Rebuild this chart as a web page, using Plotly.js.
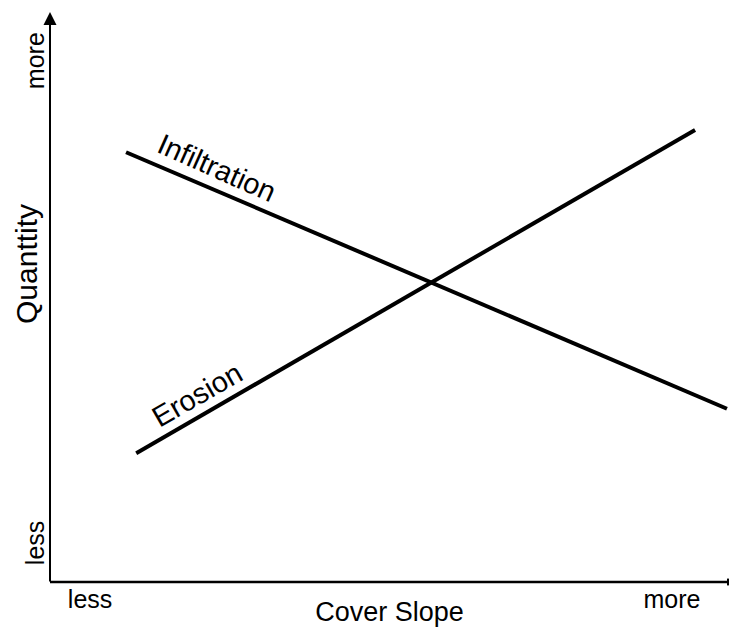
<!DOCTYPE html>
<html><head><meta charset="utf-8">
<script src="https://cdn.plot.ly/plotly-3.0.1.min.js"></script>
<style>html,body{margin:0;padding:0;background:#fff}</style>
</head><body>
<div id="chart" style="width:729px;height:627px"></div>
<script>
const infiltrationX = [1.12, 9.97];
const infiltrationY = [7.54, 3.04];
const erosionX = [1.27, 9.50];
const erosionY = [2.26, 7.93];
const xTickVals = [0.59, 9.16];
const xTickText = ["less", "more"];
const yTickVals = [0.62, 9.08];
const yTickText = ["less", "more"];
const xTitle = "Cover Slope";
const yTitle = "Quanttity";

const font = "Liberation Sans, Arial, sans-serif";
const traces = [
  {x: infiltrationX, y: infiltrationY, mode: "lines", line: {color: "#000", width: 4}, hoverinfo: "skip"},
  {x: erosionX, y: erosionY, mode: "lines", line: {color: "#000", width: 4}, hoverinfo: "skip"}
];
const layout = {
  width: 729, height: 627,
  margin: {l: 50, r: 0, t: 12, b: 45},
  paper_bgcolor: "#fff", plot_bgcolor: "#fff",
  showlegend: false,
  font: {family: font, color: "#000"},
  xaxis: {range: [0, 10], showgrid: false, zeroline: false, showline: false,
    tickvals: xTickVals, ticktext: xTickText, ticks: "", tickfont: {size: 25},
    ticklabelstandoff: 0,
    title: {text: xTitle, font: {size: 27}, standoff: 0}},
  yaxis: {range: [0, 10], showgrid: false, zeroline: false, showline: false,
    tickvals: yTickVals, ticktext: yTickText, ticks: "", tickangle: -90, tickfont: {size: 25}},
  shapes: [
    {type: "line", xref: "paper", yref: "paper", x0: 0, x1: 1, y0: 0, y1: 0, line: {color: "#000", width: 2.5}},
    {type: "line", xref: "paper", yref: "paper", x0: 0.9985, x1: 0.9985, y0: -0.006, y1: 0.006, line: {color: "#000", width: 2}}
  ],
  annotations: [
    {x: 0, y: 1, xref: "paper", yref: "paper", ax: 0, ay: 571, showarrow: true, arrowhead: 2, arrowsize: 1.3, arrowwidth: 2, arrowcolor: "#000", text: "", standoff: 0},
    {x: 2.46, y: 7.26, xref: "x", yref: "y", text: "Infiltration", showarrow: false, textangle: 24, font: {size: 29}},
    {x: 2.16, y: 3.28, xref: "x", yref: "y", text: "Erosion", showarrow: false, textangle: -30, font: {size: 29}},
    {x: (26 - 50) / 679, y: (582 - 264) / 570, xref: "paper", yref: "paper", xanchor: "center", yanchor: "middle",
     text: yTitle, showarrow: false, textangle: -90, font: {size: 30}}
  ]
};
Plotly.newPlot("chart", traces, layout, {staticPlot: true, displayModeBar: false});
</script>
</body></html>
